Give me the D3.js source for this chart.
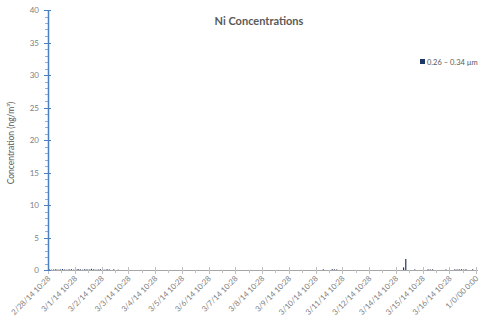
<!DOCTYPE html>
<html>
<head>
<meta charset="utf-8">
<script src="https://cdn.jsdelivr.net/npm/d3@7"></script>
<style>
  html, body { margin: 0; padding: 0; background: #fff; }
  svg { display: block; font-family: Lato, "Open Sans", "Liberation Sans", sans-serif; }
</style>
</head>
<body>
<svg id="chart" width="479" height="320"></svg>
<script>
// Day labels shown on the category axis (one every 12 samples)
const dayLabels = [
  "2/28/14 10:28", "3/1/14 10:28", "3/2/14 10:28", "3/3/14 10:28",
  "3/4/14 10:28", "3/5/14 10:28", "3/6/14 10:28", "3/7/14 10:28",
  "3/8/14 10:28", "3/9/14 10:28", "3/10/14 10:28", "3/11/14 10:28",
  "3/12/14 10:28", "3/14/14 10:28", "3/15/14 10:28", "3/16/14 10:28",
  "1/0/00 0:00"
];
const seriesName = "0.26 \u2013 0.34 \u00b5m";
// Ni concentration (ng/m³), 12 samples for each labelled day
const niValues = [
  [0.10, 0.05, 0.08, 0.12, 0.06, 0.10, 0.15, 0.08, 0.05, 0.10, 0.12, 0.06],
  [0.08, 0.15, 0.10, 0.05, 0.12, 0.10, 0.08, 0.18, 0.10, 0.05, 0.08, 0.12],
  [0.10, 0.05, 0.12, 0.08, 0.00, 0.10, 0.00, 0.05, 0.00, 0.00, 0.00, 0.00],
  [0.00, 0.00, 0.00, 0.00, 0.00, 0.00, 0.00, 0.00, 0.00, 0.00, 0.00, 0.00],
  [0.00, 0.00, 0.00, 0.00, 0.00, 0.00, 0.00, 0.00, 0.00, 0.00, 0.00, 0.00],
  [0.00, 0.00, 0.00, 0.00, 0.00, 0.00, 0.00, 0.00, 0.00, 0.00, 0.00, 0.00],
  [0.00, 0.00, 0.00, 0.00, 0.00, 0.00, 0.00, 0.00, 0.00, 0.00, 0.00, 0.00],
  [0.00, 0.00, 0.00, 0.00, 0.00, 0.00, 0.00, 0.00, 0.00, 0.00, 0.00, 0.00],
  [0.00, 0.00, 0.00, 0.00, 0.00, 0.00, 0.00, 0.00, 0.00, 0.00, 0.00, 0.00],
  [0.00, 0.00, 0.00, 0.00, 0.00, 0.00, 0.00, 0.00, 0.00, 0.00, 0.00, 0.00],
  [0.00, 0.00, 0.00, 0.10, 0.00, 0.00, 0.00, 0.12, 0.10, 0.08, 0.00, 0.00],
  [0.00, 0.00, 0.00, 0.00, 0.00, 0.00, 0.00, 0.00, 0.00, 0.00, 0.00, 0.00],
  [0.00, 0.00, 0.00, 0.00, 0.00, 0.00, 0.00, 0.00, 0.00, 0.00, 0.00, 0.00],
  [0.00, 0.00, 0.00, 0.40, 1.70, 0.00, 0.00, 0.00, 0.08, 0.00, 0.00, 0.00],
  [0.00, 0.00, 0.10, 0.08, 0.10, 0.00, 0.00, 0.00, 0.00, 0.00, 0.08, 0.00],
  [0.00, 0.00, 0.10, 0.08, 0.10, 0.12, 0.08, 0.10, 0.00, 0.00, 0.10, 0.00]
];
const yTicks = [0, 5, 10, 15, 20, 25, 30, 35, 40];

const svg = d3.select("#chart");
const plotLeft = 48, plotRight = 476, plotTop = 10, plotBottom = 270;
const slots = niValues[0].length;

// Position along the category axis measured in labelled intervals
const x = d3.scaleLinear().domain([0, dayLabels.length - 1]).range([plotLeft, plotRight]);
const y = d3.scaleLinear().domain([0, 40]).range([plotBottom, plotTop]);

const textGray = "#595959";
const labelGray = "#808080";

// Title
svg.append("text")
  .attr("x", 259).attr("y", 25)
  .attr("text-anchor", "middle")
  .attr("font-size", 11).attr("font-weight", "bold")
  .attr("fill", textGray)
  .text("Ni Concentrations");

// Y axis title
svg.append("text")
  .attr("transform", `translate(14,${(plotTop + plotBottom) / 2 + 3}) rotate(-90)`)
  .attr("text-anchor", "middle")
  .attr("font-size", 8.5)
  .attr("fill", textGray)
  .text("Concentration (ng/m\u00b3)");

// Bars
const flat = [];
niValues.forEach((day, di) => day.forEach((v, si) => flat.push({ pos: di + (si + 0.5) / slots, v })));
svg.append("g").selectAll("rect")
  .data(flat.filter(d => d.v > 0))
  .join("rect")
  .attr("x", d => x(d.pos) - 0.6)
  .attr("width", 1.2)
  .attr("y", d => y(d.v))
  .attr("height", d => y(0) - y(d.v))
  .attr("fill", "#203864");

// X axis
const xg = svg.append("g");
xg.append("line")
  .attr("x1", plotLeft).attr("x2", 478)
  .attr("y1", plotBottom + 0.5).attr("y2", plotBottom + 0.5)
  .attr("stroke", "#a6a6a6").attr("stroke-width", 1);
xg.selectAll("line.major")
  .data(dayLabels)
  .join("line").attr("class", "major")
  .attr("x1", (d, i) => Math.round(x(i)) + 0.5).attr("x2", (d, i) => Math.round(x(i)) + 0.5)
  .attr("y1", plotBottom - 3).attr("y2", plotBottom + 4)
  .attr("stroke", "#bfbfbf");
xg.selectAll("line.minor")
  .data(dayLabels.slice(1))
  .join("line").attr("class", "minor")
  .attr("x1", (d, i) => Math.round(x(i + 0.5)) + 0.5).attr("x2", (d, i) => Math.round(x(i + 0.5)) + 0.5)
  .attr("y1", plotBottom).attr("y2", plotBottom + 3)
  .attr("stroke", "#bfbfbf");
xg.selectAll("text")
  .data(dayLabels)
  .join("text")
  .attr("transform", (d, i) => `translate(${x(i) + 3},${plotBottom + 9}) rotate(-45)`)
  .attr("text-anchor", "end")
  .attr("font-size", 7.8)
  .attr("fill", labelGray)
  .text(d => d);

// Y axis
const yg = svg.append("g");
const axisBlue = "#4a7fc1";
yg.append("line")
  .attr("x1", plotLeft + 0.5).attr("x2", plotLeft + 0.5)
  .attr("y1", plotTop).attr("y2", plotBottom + 1)
  .attr("stroke", axisBlue).attr("stroke-width", 1.5);
yg.selectAll("line.minor")
  .data(d3.range(0, 41))
  .join("line").attr("class", "minor")
  .attr("x1", plotLeft - 3).attr("x2", plotLeft)
  .attr("y1", d => Math.round(y(d)) + 0.5).attr("y2", d => Math.round(y(d)) + 0.5)
  .attr("stroke", axisBlue).attr("stroke-opacity", 0.6);
yg.selectAll("line.major")
  .data(yTicks)
  .join("line").attr("class", "major")
  .attr("x1", plotLeft - 4).attr("x2", plotLeft + 3)
  .attr("y1", d => Math.round(y(d)) + 0.5).attr("y2", d => Math.round(y(d)) + 0.5)
  .attr("stroke", axisBlue);
yg.selectAll("text")
  .data(yTicks)
  .join("text")
  .attr("x", plotLeft - 9).attr("y", d => y(d) + 3)
  .attr("text-anchor", "end")
  .attr("font-size", 8)
  .attr("fill", labelGray)
  .text(d => d);

// Legend
const lg = svg.append("g").attr("transform", "translate(420,59)");
lg.append("rect").attr("width", 5).attr("height", 5).attr("fill", "#203864");
lg.append("text").attr("x", 7).attr("y", 5.5).attr("font-size", 7.5).attr("fill", textGray).text(seriesName);
</script>
</body>
</html>
